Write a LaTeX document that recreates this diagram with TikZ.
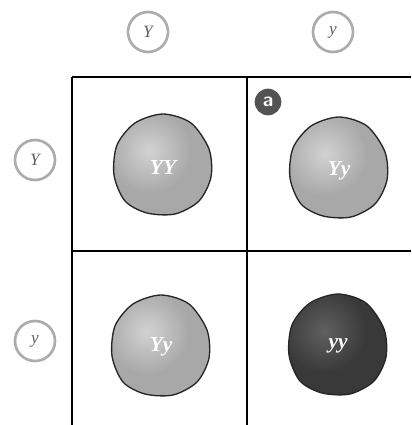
\documentclass[tikz,border=0pt]{standalone}
\usepackage{fontspec}
\setmainfont{Liberation Serif}
\begin{document}
\begin{tikzpicture}[x=0.75pt,y=-0.75pt,
  allele/.style={circle, draw=gray!65, line width=2pt, minimum size=30pt, inner sep=0pt,
    font=\itshape\fontsize{13}{13}\selectfont, text=gray!75!black},
  gridline/.style={line width=0.8pt, black},
  peaedge/.style={line width=1pt, black!85},
  genotype/.style={font=\bfseries\itshape\fontsize{16}{16}\selectfont, text=white},
  badge/.style={circle, fill=gray!65!black, minimum size=20pt, inner sep=0pt,
    font=\sffamily\bfseries\fontsize{15}{15}\selectfont, text=white}]
\useasboundingbox (0,0) rectangle (411,425);

% a pea outline centred at #1, slightly pointed at the top
\newcommand{\peashape}[1]{
  plot[smooth cycle, shift={#1}] coordinates {
    (0,-49) (28,-40) (46,-14) (48,14) (36,38) (12,51) (-16,50)
    (-38,38) (-49,12) (-46,-18) (-28,-40)}}

% a shaded pea: centre, body colour, highlight colour
\newcommand{\pea}[3]{
  \fill[#2] \peashape{#1};
  \begin{scope}
    \clip \peashape{#1};
    \shade[shift={#1}, inner color=#3, outer color=#2] (-14,-12) circle (42);
  \end{scope}
  \draw[peaedge] \peashape{#1};}

% Punnett grid
\draw[gridline] (72,77) -- (411,77);
\draw[gridline] (72,251) -- (411,251);
\draw[gridline] (72,77) -- (72,425);
\draw[gridline] (247,77) -- (247,425);

% gametes
\node[allele] (c1) at (148,32) {Y};
\node[allele] (c2) at (333,32) {y};
\node[allele] (r1) at (35,160) {Y};
\node[allele] (r2) at (35,341) {y};

% peas
\pea{(163,163)}{gray!68}{gray!35}
\node[genotype] (p11) at (163,168) {YY};

\pea{(339,166)}{gray!68}{gray!35}
\node[genotype] (p12) at (339,171) {Yy};

\pea{(161,344)}{gray!68}{gray!35}
\node[genotype] (p21) at (161,347) {Yy};

\pea{(338,343)}{gray!45!black}{gray!75!black}
\node[genotype] (p22) at (338,346) {yy};

\node[badge] (a) at (268,102) {a};
\end{tikzpicture}
\end{document}
